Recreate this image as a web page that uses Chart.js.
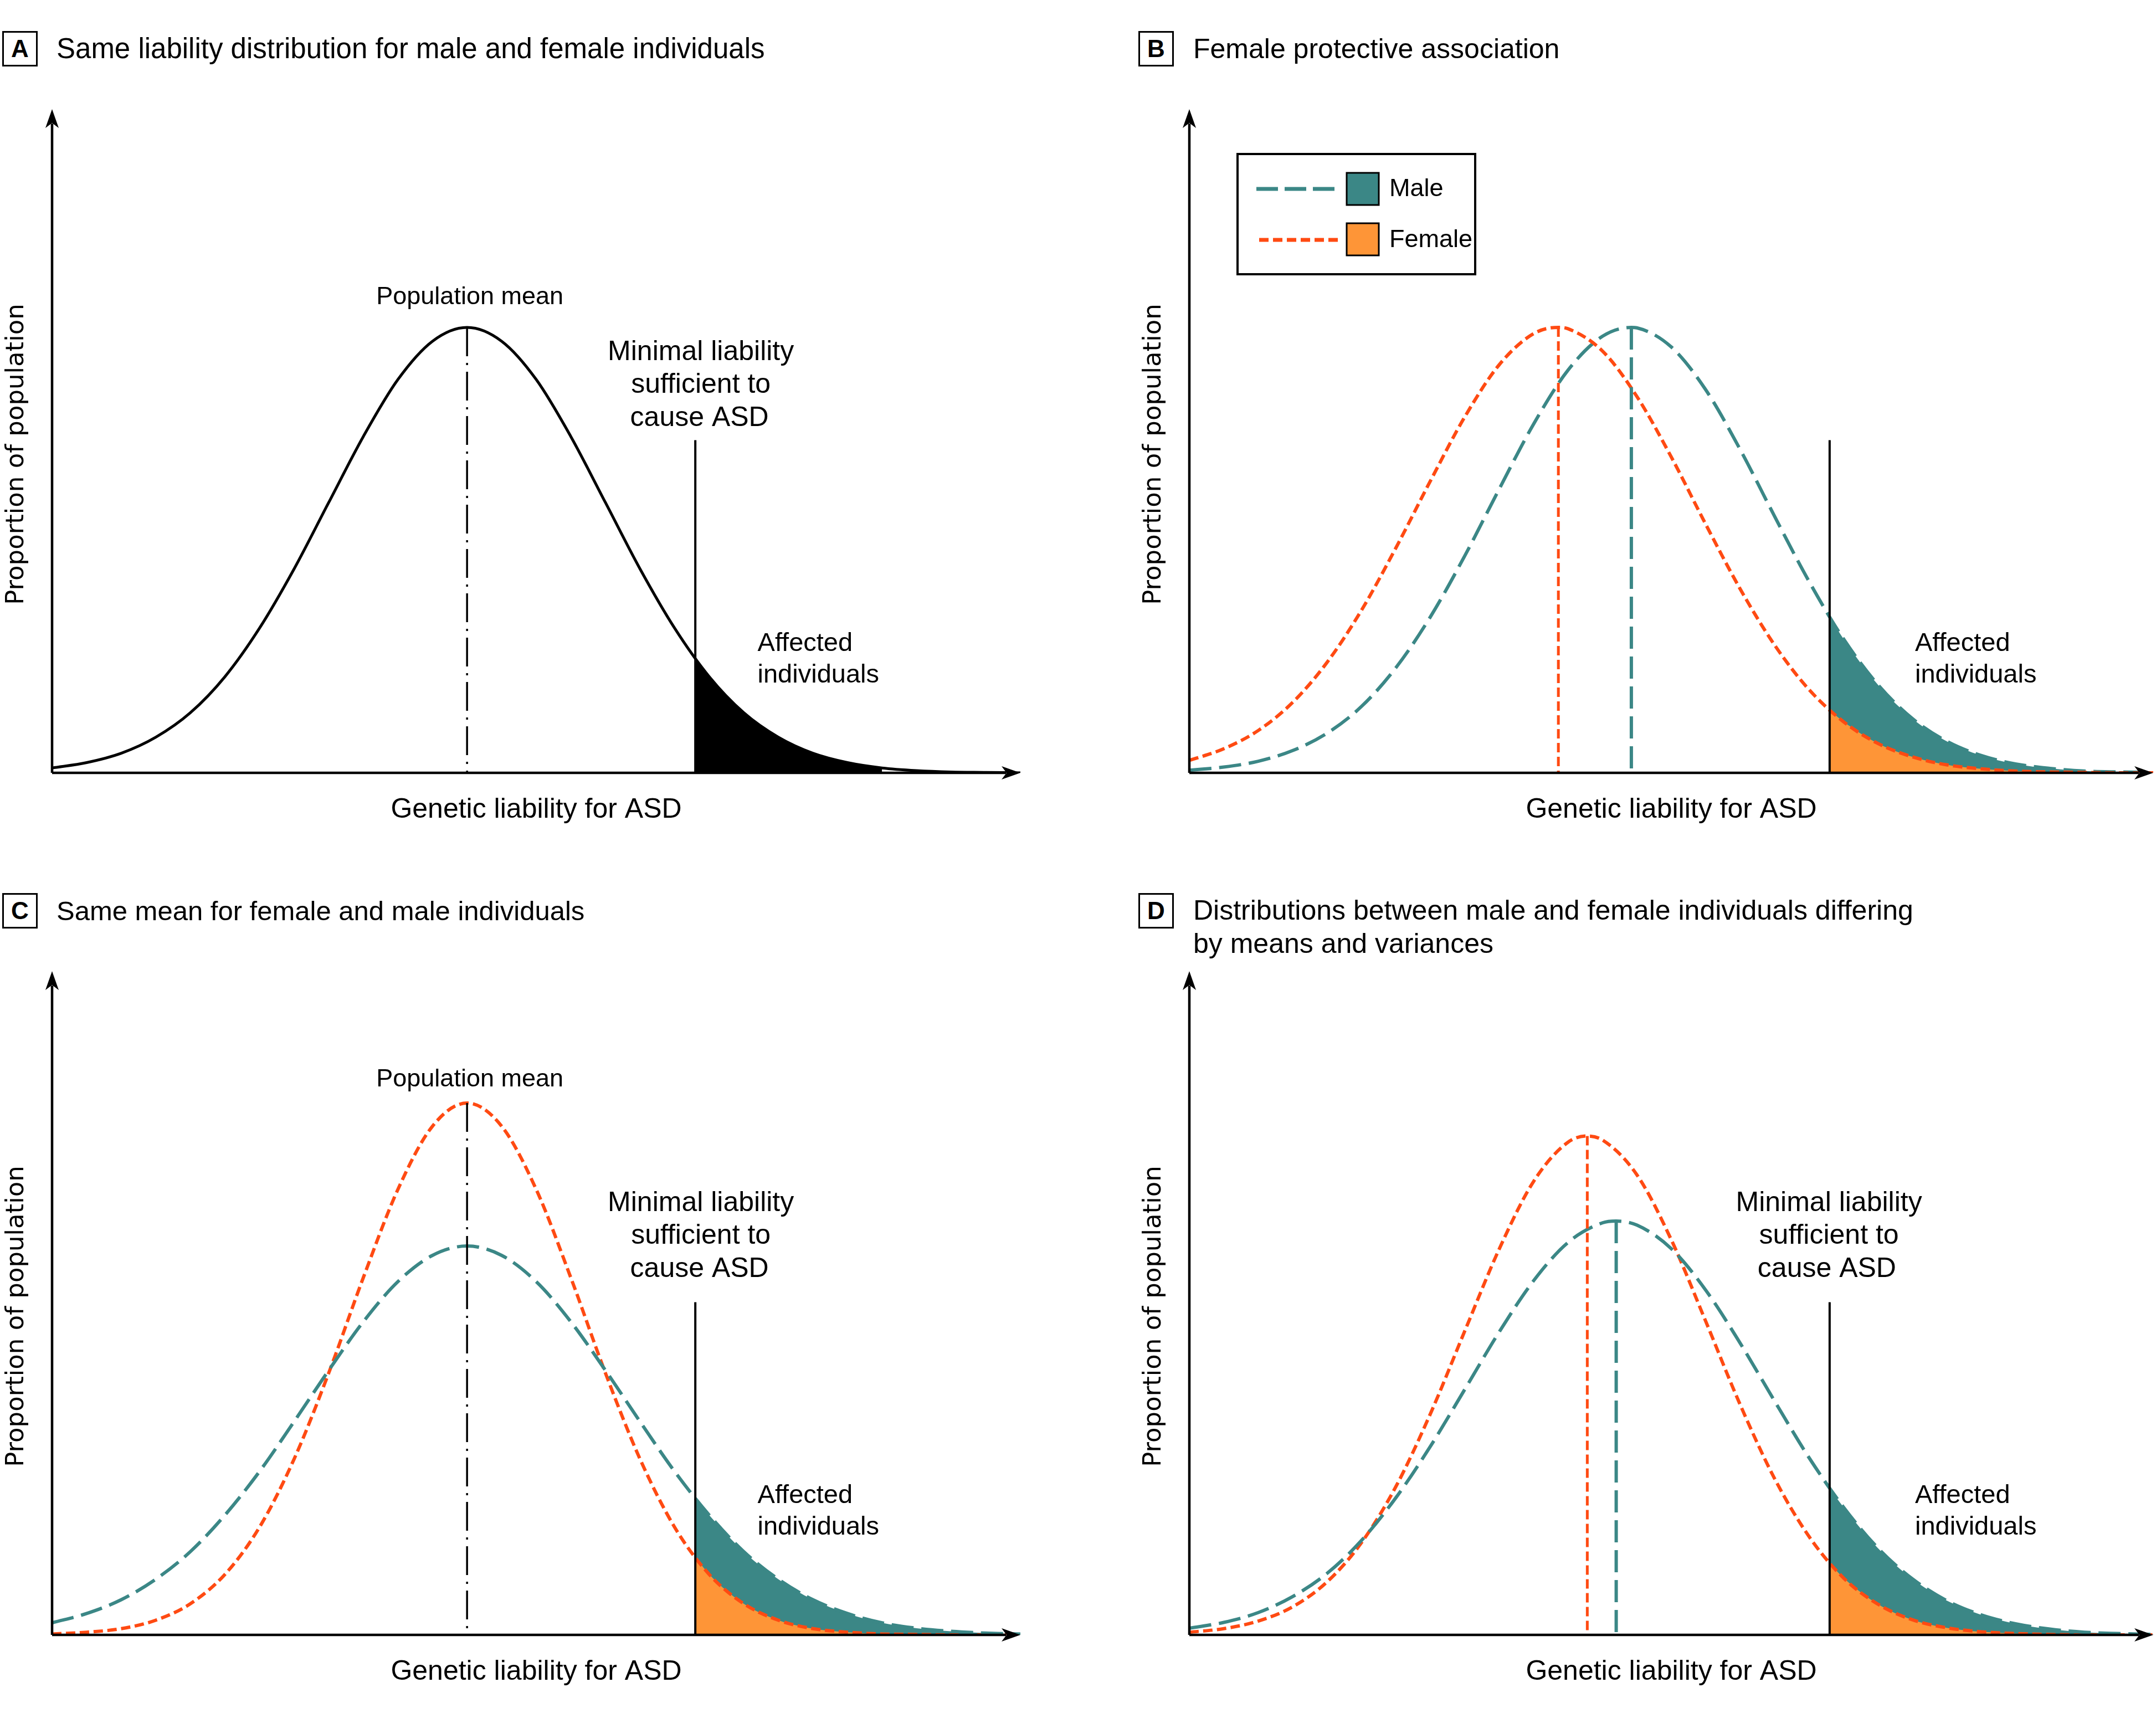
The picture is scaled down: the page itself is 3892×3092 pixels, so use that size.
<!DOCTYPE html>
<html>
<head>
<meta charset="utf-8">
<script src="https://cdn.jsdelivr.net/npm/chart.js@4.4.1/dist/chart.umd.min.js"></script>
<style>
  body { margin: 0; background: #fff; }
  #page { position: relative; width: 3892px; height: 3092px; background: #fff; overflow: hidden; }
  canvas { position: absolute; }
  .tag { position: absolute; width: 64px; height: 64px; box-sizing: border-box; border: 3px solid #000;
         font: bold 44px "Liberation Sans", Arial, sans-serif; text-align: center; line-height: 58px; }
  .head { position: absolute; font: 50px "Liberation Sans", Arial, sans-serif; line-height: 60px; color: #000; }
</style>
</head>
<body>
<div id="page">
  <div class="tag" style="left:4px;top:56px">A</div>
  <div class="head" style="left:102px;top:58px;font-size:51px">Same liability distribution for male and female individuals</div>
  <div class="tag" style="left:2055px;top:56px">B</div>
  <div class="head" style="left:2154px;top:58px">Female protective association</div>
  <div class="tag" style="left:4px;top:1612px">C</div>
  <div class="head" style="left:102px;top:1614px;font-size:49px">Same mean for female and male individuals</div>
  <div class="tag" style="left:2055px;top:1612px">D</div>
  <div class="head" style="left:2154px;top:1613px">Distributions between male and female individuals differing<br>by means and variances</div>

  <canvas id="panelA" width="1946" height="1546" style="left:0;top:0"></canvas>
  <canvas id="panelB" width="1946" height="1546" style="left:1946px;top:0"></canvas>
  <canvas id="panelC" width="1946" height="1546" style="left:0;top:1546px"></canvas>
  <canvas id="panelD" width="1946" height="1546" style="left:1946px;top:1546px"></canvas>
</div>
<script>
// ── Values (x in SD units of panel A, y relative to panel A peak) ──
const liability = [-3, -2.75, -2.5, -2.25, -2, -1.75, -1.5, -1.25, -1, -0.75, -0.5, -0.25, 0,
                   0.25, 0.5, 0.75, 1, 1.25, 1.5, 1.75, 2, 2.25, 2.5, 2.75, 3, 3.25, 3.5, 3.75, 4];

const curveA   = [0.011, 0.023, 0.044, 0.080, 0.135, 0.216, 0.325, 0.458, 0.607, 0.755, 0.883, 0.969, 1.000,
                  0.969, 0.883, 0.755, 0.607, 0.458, 0.325, 0.216, 0.135, 0.080, 0.044, 0.023, 0.011, 0.005, 0.002, 0.001, 0.000];

const maleB    = [0.006, 0.013, 0.026, 0.050, 0.089, 0.149, 0.236, 0.350, 0.487, 0.637, 0.783, 0.904, 0.980,
                  0.999, 0.956, 0.860, 0.726, 0.576, 0.430, 0.301, 0.198, 0.122, 0.071, 0.039, 0.020, 0.010, 0.004, 0.002, 0.001];
const femaleB  = [0.028, 0.054, 0.095, 0.158, 0.248, 0.365, 0.505, 0.655, 0.799, 0.916, 0.986, 0.997, 0.947,
                  0.845, 0.709, 0.558, 0.413, 0.287, 0.187, 0.115, 0.066, 0.036, 0.018, 0.009, 0.004, 0.002, 0.001, 0.000, 0.000];

const maleC    = [0.027, 0.048, 0.079, 0.125, 0.187, 0.269, 0.367, 0.479, 0.594, 0.703, 0.793, 0.852, 0.873,
                  0.852, 0.793, 0.703, 0.594, 0.479, 0.367, 0.269, 0.187, 0.125, 0.079, 0.048, 0.027, 0.015, 0.008, 0.004, 0.002];
const femaleC  = [0.002, 0.006, 0.014, 0.033, 0.070, 0.136, 0.242, 0.395, 0.588, 0.802, 1.000, 1.142, 1.194,
                  1.142, 1.000, 0.802, 0.588, 0.395, 0.242, 0.136, 0.070, 0.033, 0.014, 0.006, 0.002, 0.001, 0.000, 0.000, 0.000];

const maleD    = [0.015, 0.028, 0.050, 0.086, 0.138, 0.212, 0.308, 0.423, 0.551, 0.680, 0.795, 0.881, 0.925,
                  0.920, 0.867, 0.774, 0.655, 0.525, 0.398, 0.287, 0.195, 0.126, 0.077, 0.045, 0.025, 0.013, 0.006, 0.003, 0.001];
const femaleD  = [0.006, 0.014, 0.031, 0.063, 0.119, 0.207, 0.333, 0.496, 0.682, 0.866, 1.018, 1.106, 1.111,
                  1.033, 0.887, 0.704, 0.517, 0.351, 0.221, 0.128, 0.069, 0.034, 0.016, 0.007, 0.003, 0.001, 0.000, 0.000, 0.000];

// [mean, peak height]
const peakA       = [0, 1.000];
const malePeakB   = [0.21, 1.000];
const femalePeakB = [-0.32, 1.000];
const malePeakC   = [0, 0.873];
const femalePeakC = [0, 1.194];
const malePeakD   = [0.10, 0.929];
const femalePeakD = [-0.11, 1.120];

// threshold (minimal liability) and curve heights where it cuts them: [male, female]
const threshold    = 1.65;
const thresholdTop = 0.747;
const tailStartA   = 0.256;
const tailStartB   = [0.350, 0.141];
const tailStartC   = [0.306, 0.174];
const tailStartD   = [0.329, 0.161];

const TEAL = '#3b8786', ORANGE_LINE = '#ff4a12', ORANGE_FILL = '#fe9537';
const FONT = '"Liberation Sans", Arial, sans-serif';

// ── helpers ─────────────────────────────────────────────────────────────────
function curvePoints(ys, peak) {
  const pts = liability.map((x, i) => ({ x, y: ys[i] }));
  if (peak && !liability.includes(peak[0])) pts.push({ x: peak[0], y: peak[1] });
  return pts.sort((a, b) => a.x - b.x);
}
function tailPoints(ys, start, end = 4) {
  const rest = liability.map((x, i) => ({ x, y: ys[i] })).filter(p => p.x > threshold && p.x <= end);
  return [{ x: threshold, y: start }].concat(rest);
}
const line = (data, color, width, dash, order = 5) => ({
  data, borderColor: color, borderWidth: width, borderDash: dash, borderCapStyle: 'butt',
  pointRadius: 0, fill: false, cubicInterpolationMode: 'monotone', order,
});
const area = (data, color, order) => ({
  data, backgroundColor: color, borderColor: 'transparent', borderWidth: 0,
  pointRadius: 0, fill: 'origin', cubicInterpolationMode: 'monotone', order,
});
const vline = (x, top, color, width, dash) => ({
  data: [{ x, y: top }, { x, y: 0 }], borderColor: color, borderWidth: width, borderDash: dash,
  borderCapStyle: 'butt', pointRadius: 0, fill: false, tension: 0, order: 1,
});

function arrow(ctx, tx, ty, dx, dy) {
  const L = 34, W = 12, N = 25, px = -dy, py = dx;
  ctx.beginPath();
  ctx.moveTo(tx, ty);
  ctx.lineTo(tx - dx * L + px * W, ty - dy * L + py * W);
  ctx.lineTo(tx - dx * N, ty - dy * N);
  ctx.lineTo(tx - dx * L - px * W, ty - dy * L - py * W);
  ctx.closePath();
  ctx.fill();
}

function decor(spec) {
  return {
    id: 'decor',
    afterDatasetsDraw(chart) {
      const { ctx, chartArea: a, scales: { x, y } } = chart;
      ctx.save();
      ctx.strokeStyle = '#000'; ctx.fillStyle = '#000'; ctx.lineWidth = 4.5; ctx.setLineDash([]);
      ctx.beginPath();
      ctx.moveTo(a.left, a.bottom); ctx.lineTo(a.right - 26, a.bottom);
      ctx.moveTo(a.left, a.bottom); ctx.lineTo(a.left, a.top + 26);
      ctx.stroke();
      arrow(ctx, a.right, a.bottom, 1, 0);
      arrow(ctx, a.left, a.top, 0, -1);

      // axis titles
      ctx.font = '50px ' + FONT;
      ctx.textAlign = 'center'; ctx.textBaseline = 'middle';
      ctx.fillText('Genetic liability for ASD', (a.left + a.right) / 2, a.bottom + 67);
      ctx.save();
      ctx.translate(a.left - 64, (a.top + a.bottom) / 2 + 24);
      ctx.rotate(-Math.PI / 2);
      ctx.font = '45px "DejaVu Sans", sans-serif';
      ctx.fillText('Proportion of population', 0, 0);
      ctx.restore();

      // annotations
      spec.notes.forEach(n => {
        ctx.font = (n.size || 50) + 'px ' + FONT;
        ctx.textAlign = n.align;
        ctx.fillText(n.text, x.getPixelForValue(n.x), y.getPixelForValue(n.y));
      });

      if (spec.legend) {
        const L = a.left, T = a.top;
        ctx.lineWidth = 4;
        ctx.strokeRect(L + 87, T + 81, 429, 217);
        ctx.lineWidth = 7;
        ctx.strokeStyle = TEAL; ctx.setLineDash([39, 12]);
        ctx.beginPath(); ctx.moveTo(L + 121, T + 144); ctx.lineTo(L + 268, T + 144); ctx.stroke();
        ctx.strokeStyle = ORANGE_LINE; ctx.setLineDash([17, 8]);
        ctx.beginPath(); ctx.moveTo(L + 126, T + 236); ctx.lineTo(L + 268, T + 236); ctx.stroke();
        ctx.setLineDash([]); ctx.lineWidth = 3; ctx.strokeStyle = '#000';
        ctx.fillStyle = TEAL; ctx.fillRect(L + 284, T + 115, 58, 58); ctx.strokeRect(L + 284, T + 115, 58, 58);
        ctx.fillStyle = ORANGE_FILL; ctx.fillRect(L + 284, T + 206, 58, 58); ctx.strokeRect(L + 284, T + 206, 58, 58);
        ctx.fillStyle = '#000'; ctx.textAlign = 'left';
        ctx.font = '45px ' + FONT;
        ctx.fillText('Male', L + 361, T + 145);
        ctx.fillText('Female', L + 361, T + 237);
      }
      ctx.restore();
    },
  };
}

function makePanel(id, padding, datasets, spec) {
  return new Chart(document.getElementById(id), {
    type: 'line',
    data: { datasets },
    options: {
      responsive: false, animation: false, devicePixelRatio: 1, events: [],
      layout: { padding },
      plugins: { legend: { display: false }, tooltip: { enabled: false } },
      scales: {
        x: { type: 'linear', min: -3, max: 4, display: false },
        y: { type: 'linear', min: 0, max: 1.49, display: false },
      },
    },
    plugins: [decor(spec)],
  });
}

const DASH_M = [40, 14], DASH_F = [17, 8], DASH_DOT = [52, 12, 4, 12];
const padTop    = { top: 197, bottom: 151 };
const padBottom = { top: 207, bottom: 141 };

// ── A ─────────────────────────────────────────────────────────────────────
makePanel('panelA', { left: 94, right: 104, ...padTop }, [
  area(tailPoints(curveA, tailStartA, 3), '#000', 10),
  line(curvePoints(curveA, peakA), '#000', 5, []),
  vline(peakA[0], peakA[1], '#000', 3.5, DASH_DOT),
  vline(threshold, thresholdTop, '#000', 4, []),
], { notes: [
  { text: 'Population mean', x: 0.02, y: 1.068, align: 'center', size: 45 },
  { text: 'Minimal liability', x: 1.69, y: 0.944, align: 'center' },
  { text: 'sufficient to', x: 1.69, y: 0.870, align: 'center' },
  { text: 'cause ASD', x: 1.68, y: 0.796, align: 'center' },
  { text: 'Affected', x: 2.10, y: 0.290, align: 'left', size: 47 },
  { text: 'individuals', x: 2.10, y: 0.219, align: 'left', size: 47 },
] });

// ── B ─────────────────────────────────────────────────────────────────────
makePanel('panelB', { left: 201, right: 5, ...padTop }, [
  area(tailPoints(maleB, tailStartB[0]), TEAL, 11),
  area(tailPoints(femaleB, tailStartB[1]), ORANGE_FILL, 10),
  line(curvePoints(femaleB, femalePeakB), ORANGE_LINE, 6, DASH_F),
  line(curvePoints(maleB, malePeakB), TEAL, 6, DASH_M),
  vline(femalePeakB[0], femalePeakB[1], ORANGE_LINE, 5, DASH_F),
  vline(malePeakB[0], malePeakB[1], TEAL, 6, DASH_M),
  vline(threshold, thresholdTop, '#000', 4, []),
], { legend: true, notes: [
  { text: 'Affected', x: 2.27, y: 0.290, align: 'left', size: 47 },
  { text: 'individuals', x: 2.27, y: 0.219, align: 'left', size: 47 },
] });

// ── C ─────────────────────────────────────────────────────────────────────
makePanel('panelC', { left: 94, right: 104, ...padBottom }, [
  area(tailPoints(maleC, tailStartC[0]), TEAL, 11),
  area(tailPoints(femaleC, tailStartC[1]), ORANGE_FILL, 10),
  line(curvePoints(maleC, malePeakC), TEAL, 6, DASH_M),
  line(curvePoints(femaleC, femalePeakC), ORANGE_LINE, 6, DASH_F),
  vline(femalePeakC[0], femalePeakC[1], '#000', 3.5, DASH_DOT),
  vline(threshold, thresholdTop, '#000', 4, []),
], { notes: [
  { text: 'Population mean', x: 0.02, y: 1.247, align: 'center', size: 45 },
  { text: 'Minimal liability', x: 1.69, y: 0.969, align: 'center' },
  { text: 'sufficient to', x: 1.69, y: 0.895, align: 'center' },
  { text: 'cause ASD', x: 1.68, y: 0.821, align: 'center' },
  { text: 'Affected', x: 2.10, y: 0.312, align: 'left', size: 47 },
  { text: 'individuals', x: 2.10, y: 0.241, align: 'left', size: 47 },
] });

// ── D ─────────────────────────────────────────────────────────────────────
makePanel('panelD', { left: 201, right: 5, ...padBottom }, [
  area(tailPoints(maleD, tailStartD[0]), TEAL, 11),
  area(tailPoints(femaleD, tailStartD[1]), ORANGE_FILL, 10),
  line(curvePoints(maleD, malePeakD), TEAL, 6, DASH_M),
  line(curvePoints(femaleD, femalePeakD), ORANGE_LINE, 6, DASH_F),
  vline(femalePeakD[0], femalePeakD[1], ORANGE_LINE, 5, DASH_F),
  vline(malePeakD[0], malePeakD[1], TEAL, 6, DASH_M),
  vline(threshold, thresholdTop, '#000', 4, []),
], { notes: [
  { text: 'Minimal liability', x: 1.645, y: 0.969, align: 'center' },
  { text: 'sufficient to', x: 1.645, y: 0.895, align: 'center' },
  { text: 'cause ASD', x: 1.63, y: 0.821, align: 'center' },
  { text: 'Affected', x: 2.27, y: 0.312, align: 'left', size: 47 },
  { text: 'individuals', x: 2.27, y: 0.241, align: 'left', size: 47 },
] });
</script>
</body>
</html>
